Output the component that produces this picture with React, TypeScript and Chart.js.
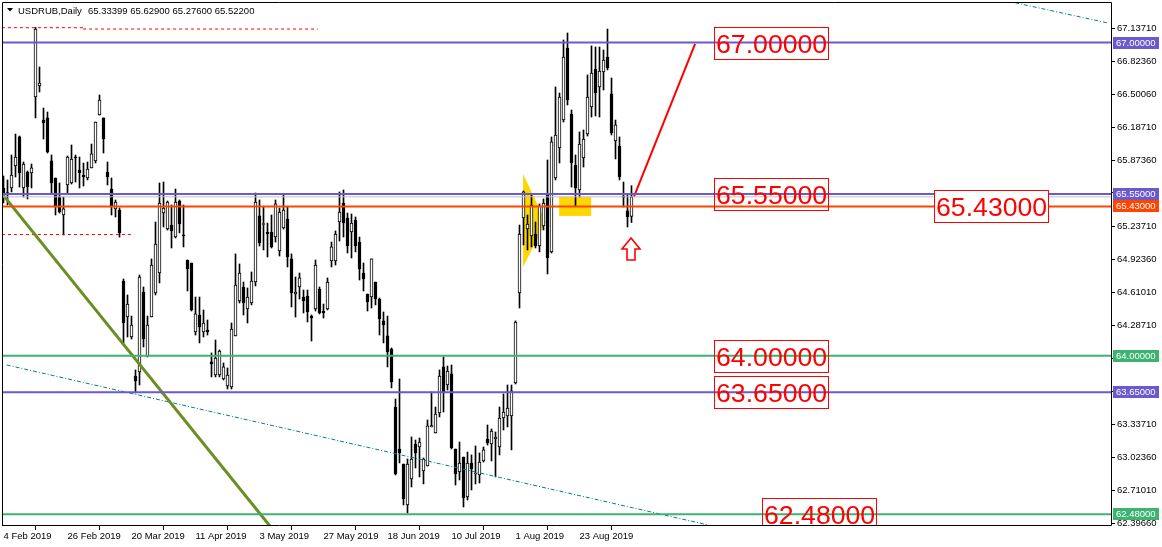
import React, { useEffect, useRef } from "react";
import { Chart, registerables } from "chart.js";

Chart.register(...registerables);

// ---------- data (daily USDRUB candles, bar index 0 = 4 Feb 2019) ----------
const opens = [
  65.607, 65.54, 65.607, 65.818, 66.096, 65.607, 65.76, 65.751, 66.479, 66.584,
  66.258, 66.278, 65.866, 65.703, 65.521, 65.348, 65.636, 65.655, 65.904, 65.779,
  65.731, 65.703, 65.799, 65.866, 66.306, 66.278, 65.76, 65.597, 65.406, 65.396,
  64.716, 64.371, 64.179, 63.805, 63.844, 64.61, 63.997, 64.371, 64.601, 64.792,
  65.367, 65.214, 65.252, 65.137, 65.482, 65.157, 64.917, 64.888, 64.227, 64.39,
  64.227, 64.246, 63.94, 63.815, 63.815, 63.777, 63.71, 63.7, 64.189, 64.524,
  64.658, 64.448, 64.505, 64.706, 65.339, 65.257, 65.185, 65.185, 65.137, 65.003,
  65.224, 65.31, 64.927, 64.591, 64.658, 64.562, 64.572, 64.38, 64.448, 64.639,
  64.424, 64.448, 64.907, 64.907, 65.281, 65.463, 65.319, 65.185, 65.3, 65.089,
  64.792, 64.591, 64.562, 64.706, 64.543, 64.333, 64.189, 64.064, 63.508, 63.106,
  62.962, 62.569, 62.819, 63.154, 63.125, 62.895, 62.943, 63.317, 63.259, 63.451,
  63.892, 63.719, 63.825, 63.106, 62.886, 63.029, 62.646, 62.972, 62.866, 62.857,
  62.991, 63.202, 63.154, 63.202, 63.125, 63.403, 63.422, 63.422, 63.738, 64.601,
  65.319, 65.214, 65.147, 65.166, 65.051, 65.243, 65.54, 64.994, 65.703, 65.99,
  66.258, 66.948, 66.316, 65.827, 65.588, 65.894, 66.124, 66.383, 66.747, 66.575,
  66.718, 66.862, 66.508, 66.057, 66.009, 65.526, 65.387, 65.33399,
];
const highs = [
  65.722, 65.684, 65.923, 66.124, 66.105, 65.856, 65.77, 65.837, 67.145, 66.766,
  66.373, 66.335, 65.923, 65.703, 65.655, 65.521, 65.913, 66.019, 65.923, 65.904,
  65.846, 65.856, 66.028, 66.239, 66.498, 66.278, 65.856, 65.703, 65.492, 65.415,
  64.735, 64.582, 64.38, 63.863, 64.773, 64.658, 64.38, 64.927, 65.281, 65.655,
  65.664, 65.482, 65.444, 65.597, 65.492, 65.444, 64.917, 64.888, 64.562, 64.562,
  64.438, 64.342, 64.026, 64.15, 64.055, 63.93, 63.882, 64.313, 64.975, 64.879,
  64.706, 64.649, 64.802, 65.559, 65.492, 65.425, 65.271, 65.348, 65.492, 65.415,
  65.549, 65.425, 64.975, 64.754, 64.792, 64.629, 64.629, 64.39, 64.917, 64.658,
  64.495, 64.745, 65.089, 65.195, 65.569, 65.588, 65.367, 65.358, 65.329, 65.137,
  64.888, 64.591, 64.927, 64.706, 64.553, 64.419, 64.38, 64.074, 63.585, 63.777,
  62.962, 63.01, 63.221, 63.192, 63.211, 63.02, 63.384, 63.652, 63.508, 63.863,
  63.988, 63.901, 63.911, 63.106, 63.173, 63.029, 63.077, 63.049, 63.135, 63.068,
  63.125, 63.336, 63.298, 63.269, 63.508, 63.633, 63.719, 63.719, 64.333, 65.252,
  65.578, 65.348, 65.549, 65.281, 65.454, 65.502, 65.875, 66.096, 66.575, 66.517,
  67.025, 67.092, 66.354, 65.923, 66.144, 66.163, 66.69, 66.968, 66.958, 66.958,
  66.929, 67.13, 66.661, 66.258, 66.096, 65.664, 65.54, 65.629,
];
const lows = [
  65.463, 65.444, 65.569, 65.712, 65.616, 65.521, 65.502, 65.607, 66.278, 66.527,
  66.076, 65.942, 65.549, 65.348, 65.367, 65.157, 65.559, 65.645, 65.664, 65.607,
  65.626, 65.684, 65.799, 65.846, 66.306, 65.942, 65.636, 65.348, 65.329, 65.137,
  64.122, 64.179, 64.16, 63.643, 63.719, 64.083, 63.988, 64.371, 64.582, 64.697,
  65.233, 65.204, 65.032, 65.128, 65.176, 65.042, 64.62, 64.428, 64.198, 64.122,
  64.179, 64.198, 63.796, 63.796, 63.796, 63.767, 63.681, 63.681, 64.189, 64.505,
  64.39, 64.313, 64.486, 64.668, 65.051, 65.013, 64.946, 65.032, 65.089, 64.955,
  65.214, 64.85, 64.467, 64.371, 64.543, 64.409, 64.323, 64.141, 64.428, 64.4,
  64.361, 64.438, 64.85, 64.869, 65.099, 65.137, 64.984, 64.936, 64.994, 64.725,
  64.62, 64.428, 64.457, 64.486, 64.198, 64.122, 63.892, 63.691, 62.857, 62.972,
  62.569, 62.493, 62.742, 62.924, 62.838, 62.771, 62.943, 63.317, 63.259, 63.413,
  63.46, 63.671, 63.106, 62.761, 62.809, 62.55, 62.617, 62.713, 62.771, 62.78,
  62.981, 63.144, 62.991, 62.838, 63.049, 63.288, 63.317, 63.097, 63.729, 64.457,
  65.061, 65.013, 65.042, 65.032, 64.994, 65.204, 64.783, 64.984, 65.684, 65.846,
  66.239, 66.402, 65.616, 65.434, 65.521, 65.808, 66.105, 66.287, 66.297, 66.287,
  66.546, 66.738, 66.115, 65.885, 65.684, 65.425, 65.233, 65.276,
];
const closes = [
  65.511, 65.564, 65.731, 65.904, 65.751, 65.837, 65.616, 65.799, 67.13, 66.613,
  66.23, 65.952, 65.655, 65.425, 65.377, 65.406, 65.904, 65.885, 65.894, 65.751,
  65.712, 65.789, 65.933, 66.239, 66.45, 66.076, 65.712, 65.434, 65.473, 65.176,
  64.313, 64.495, 64.294, 63.758, 64.754, 64.16, 64.294, 64.869, 65.07, 65.463,
  65.415, 65.473, 65.195, 65.473, 65.262, 65.147, 64.831, 64.438, 64.4, 64.275,
  64.313, 64.227, 63.92, 63.978, 64.045, 63.892, 63.815, 64.256, 64.677, 64.792,
  64.505, 64.562, 64.716, 65.473, 65.08, 65.267, 65.166, 65.042, 65.454, 65.377,
  65.396, 64.946, 64.601, 64.61, 64.745, 64.524, 64.419, 64.361, 64.869, 64.409,
  64.409, 64.706, 65.042, 65.166, 65.377, 65.271, 65.051, 65.271, 65.051, 64.831,
  64.735, 64.515, 64.927, 64.543, 64.352, 64.294, 64.035, 63.748, 62.866, 63.068,
  62.627, 62.962, 63.01, 63.068, 63.173, 63.01, 63.327, 63.331, 63.441, 63.805,
  63.643, 63.853, 63.116, 62.866, 62.972, 62.636, 62.972, 62.914, 62.876, 62.981,
  63.097, 63.164, 63.278, 63.221, 63.403, 63.46, 63.499, 63.662, 64.323, 65.166,
  65.569, 65.262, 65.444, 65.051, 65.434, 65.463, 64.936, 66.048, 66.115, 66.479,
  66.862, 66.45, 65.846, 65.607, 66.028, 66.076, 66.479, 66.709, 66.517, 66.728,
  66.833, 66.757, 66.134, 66.211, 65.712, 65.516, 65.329, 65.522,
];

const xTickIndex = [0, 16, 32, 48, 64, 80, 96, 112, 128, 144];
const xTickLabels = [
  "4 Feb 2019", "26 Feb 2019", "20 Mar 2019", "11 Apr 2019", "3 May 2019",
  "27 May 2019", "18 Jun 2019", "10 Jul 2019", "1 Aug 2019", "23 Aug 2019",
];
const yTicks = [
  67.1371, 66.8236, 66.5006, 66.1871, 65.8736, 65.5601, 65.2371, 64.9236,
  64.6101, 64.2871, 63.9736, 63.6601, 63.3371, 63.0236, 62.7101, 62.3966,
];

// horizontal levels
const levelValues = [67.0, 65.55, 65.43, 64.0, 63.65, 62.48];
const bidValue = 65.522;

// boxed level captions: bar-index position of left edge, price level
const boxLabels = ["67.00000", "65.55000", "64.00000", "63.65000", "62.48000", "65.43000"];
const boxLevels = [67.0, 65.55, 64.0, 63.65, 62.48, 65.43];
const boxXIndex = [177.625, 177.625, 177.625, 177.625, 189.625, 232.625];

// trend lines: [x index, price]
const oliveLineX = [-0.125, 73.5];
const oliveLineY = [65.54, 62.04];
const tealLowX = [0.8, 176.1];
const tealLowY = [63.911, 62.378];
const tealHighX = [252.9, 276.1];
const tealHighY = [67.382, 67.188];
const redLineX = [157.6, 172.9];
const redLineY = [65.521, 66.987];
const dashTop1X = [-0.4, 19.9];
const dashTop1Y = [67.143, 67.143];
const dashTop2X = [19.9, 78.6];
const dashTop2Y = [67.13, 67.13];
const dashLowX = [-0.4, 32.1];
const dashLowY = [65.161, 65.161];

// yellow shapes
const triangleX = [129.9, 135.6, 129.9];
const triangleY = [65.741, 65.281, 64.85];
const rectX = [138.9, 146.9];
const rectY = [65.521, 65.339];

// arrow marker (tip)
const arrowX = 156.875;
const arrowY = 65.128;

const X_MIN = -0.375;
const X_MAX = 276.875;
const Y_MIN = 62.3679;
const Y_MAX = 67.3891;

// ---------- styles ----------
const PURPLE = "#6A5ACD";
const GREEN = "#3CB371";
const ORANGE = "#FF4500";
const levelColors = [PURPLE, PURPLE, ORANGE, GREEN, PURPLE, GREEN];
const FONT = '"Liberation Sans", Arial, sans-serif';

const pts = (xs: number[], ys: number[]) => xs.map((x, i) => ({ x, y: ys[i] }));

const lineDs = (data: any[], color: string, width: number, dash: number[] = [], order = 0) => ({
  type: "line" as const,
  data,
  borderColor: color,
  borderWidth: width,
  borderDash: dash,
  pointRadius: 0,
  fill: false,
  tension: 0,
  order,
});

const overlayPlugin = {
  id: "mt4overlay",
  beforeDatasetsDraw(chart: any) {
    const { ctx, chartArea: a, scales } = chart;
    const xs = scales.x;
    const ys = scales.y;
    ctx.save();
    ctx.beginPath();
    ctx.rect(a.left, a.top, a.right - a.left, a.bottom - a.top);
    ctx.clip();
    ctx.fillStyle = "#FFD700";
    ctx.beginPath();
    triangleX.forEach((x, i) => {
      const px = xs.getPixelForValue(x);
      const py = ys.getPixelForValue(triangleY[i]);
      if (i === 0) ctx.moveTo(px, py);
      else ctx.lineTo(px, py);
    });
    ctx.closePath();
    ctx.fill();
    const rx0 = xs.getPixelForValue(rectX[0]);
    const rx1 = xs.getPixelForValue(rectX[1]);
    const ry0 = ys.getPixelForValue(rectY[0]);
    const ry1 = ys.getPixelForValue(rectY[1]);
    ctx.fillRect(rx0, ry0, rx1 - rx0, ry1 - ry0);
    ctx.restore();
  },
  afterDatasetsDraw(chart: any) {
    const { ctx, chartArea: a, scales } = chart;
    const xs = scales.x;
    const ys = scales.y;
    ctx.save();
    ctx.beginPath();
    ctx.rect(a.left, a.top, a.right - a.left, a.bottom - a.top);
    ctx.clip();
    // boxed captions
    boxLabels.forEach((lab, i) => {
      const x0 = Math.round(xs.getPixelForValue(boxXIndex[i]));
      const yc = ys.getPixelForValue(boxLevels[i]);
      const y0 = Math.round(yc - 16);
      if (lab === "65.43000") {
        ctx.fillStyle = "#FFFFFF";
        ctx.fillRect(x0, y0, 115, 32);
      }
      ctx.strokeStyle = "#FF0000";
      ctx.lineWidth = 1;
      ctx.strokeRect(x0 + 0.5, y0 + 0.5, 114, 32);
      ctx.fillStyle = "#FF0000";
      ctx.font = `26.67px ${FONT}`;
      ctx.textAlign = "left";
      ctx.textBaseline = "alphabetic";
      ctx.fillText(lab, x0 + 2, yc + 10);
    });
    // arrow
    const ax = xs.getPixelForValue(arrowX);
    const ay = ys.getPixelForValue(arrowY);
    const shape = [
      [0, 0], [9, 11], [4, 11], [4, 22], [-4, 22], [-4, 11], [-9, 11],
    ];
    ctx.beginPath();
    shape.forEach(([dx, dy], i) => {
      if (i === 0) ctx.moveTo(ax + dx, ay + dy);
      else ctx.lineTo(ax + dx, ay + dy);
    });
    ctx.closePath();
    ctx.fillStyle = "#FFFFFF";
    ctx.fill();
    ctx.strokeStyle = "#FF0000";
    ctx.lineWidth = 1.6;
    ctx.stroke();
    ctx.restore();
  },
  afterDraw(chart: any) {
    const { ctx, chartArea: a, scales } = chart;
    const ys = scales.y;
    ctx.save();
    // frame
    ctx.strokeStyle = "#000";
    ctx.lineWidth = 1;
    ctx.beginPath();
    ctx.moveTo(a.left + 0.5, a.bottom);
    ctx.lineTo(a.left + 0.5, a.top + 0.5);
    ctx.lineTo(a.right + 0.5, a.top + 0.5);
    ctx.lineTo(a.right + 0.5, a.bottom - 0.5);
    ctx.lineTo(a.left, a.bottom - 0.5);
    ctx.stroke();
    // header
    ctx.fillStyle = "#000";
    ctx.beginPath();
    ctx.moveTo(7, 8);
    ctx.lineTo(13, 8);
    ctx.lineTo(10, 11.5);
    ctx.closePath();
    ctx.fill();
    ctx.font = `9.5px ${FONT}`;
    ctx.textAlign = "left";
    ctx.textBaseline = "alphabetic";
    ctx.fillText("USDRUB,Daily", 18, 14);
    ctx.fillText(
      [opens[opens.length - 1], highs[highs.length - 1], lows[lows.length - 1], closes[closes.length - 1]]
        .map((v) => v.toFixed(5))
        .join(" "),
      88,
      14
    );
    // price badges on the axis
    const badge = (v: number, color: string) => {
      const y = Math.round(ys.getPixelForValue(v));
      ctx.fillStyle = color;
      ctx.fillRect(a.right + 2, y - 6, 46, 12);
      ctx.fillStyle = "#FFFFFF";
      ctx.font = `9.5px ${FONT}`;
      ctx.textBaseline = "middle";
      ctx.fillText(v.toFixed(5), a.right + 5, y + 0.5);
    };
    badge(bidValue, "#000000");
    levelValues.forEach((v, i) => badge(v, levelColors[i]));
    ctx.restore();
  },
};

export default function App() {
  const ref = useRef<HTMLCanvasElement | null>(null);
  useEffect(() => {
    document.body.style.margin = "0";
    document.body.style.background = "#fff";
    const canvas = ref.current;
    if (!canvas) return;

    const idx = opens.map((_, i) => i);
    const wickData = idx.map((i) => ({ x: i, y: [lows[i], highs[i]] }));
    const bodyData = idx.map((i) => ({ x: i, y: [opens[i], closes[i]] }));
    const bodyColors = idx.map((i) => (closes[i] >= opens[i] ? "#FFFFFF" : "#000000"));

    const datasets: any[] = [
      {
        type: "bar",
        data: wickData,
        backgroundColor: "#000000",
        borderWidth: 0,
        barThickness: 1,
        grouped: false,
        order: 3,
      },
      {
        type: "bar",
        data: bodyData,
        backgroundColor: bodyColors,
        borderColor: "#000000",
        borderWidth: 1,
        borderSkipped: false,
        barThickness: 3,
        grouped: false,
        order: 2,
      },
      lineDs(pts([X_MIN, X_MAX], [bidValue, bidValue]), "#C0C0C0", 1),
      ...levelValues.map((v, i) =>
        lineDs(pts([X_MIN, X_MAX], [v, v]), levelColors[i], 2)
      ),
      lineDs(pts(oliveLineX, oliveLineY), "#6B8E23", 3),
      lineDs(pts(tealLowX, tealLowY), "#008080", 1, [4, 2, 1, 2]),
      lineDs(pts(tealHighX, tealHighY), "#008080", 1, [4, 2, 1, 2]),
      lineDs(pts(redLineX, redLineY), "#FF0000", 2),
      lineDs(pts(dashTop1X, dashTop1Y), "#FF0000", 1, [3, 3]),
      lineDs(pts(dashTop2X, dashTop2Y), "#FF0000", 1, [3, 3]),
      lineDs(pts(dashLowX, dashLowY), "#FF0000", 1, [3, 3]),
    ];

    const chart = new Chart(canvas, {
      type: "bar",
      data: { datasets },
      options: {
        responsive: false,
        devicePixelRatio: 1,
        animation: false,
        events: [],
        layout: { padding: { left: 2, top: 2, right: 0, bottom: 0 } },
        plugins: { legend: { display: false }, tooltip: { enabled: false } },
        scales: {
          x: {
            type: "linear",
            min: X_MIN,
            max: X_MAX,
            offset: false,
            afterBuildTicks: (s: any) => {
              s.ticks = xTickIndex.map((v) => ({ value: v }));
            },
            afterFit: (s: any) => {
              s.height = 21;
              s.paddingLeft = 0;
              s.paddingRight = 0;
            },
            ticks: {
              autoSkip: false,
              maxRotation: 0,
              minRotation: 0,
              align: "start",
              padding: 1,
              color: "#000",
              font: { family: FONT, size: 9.5 },
              callback: (v: any) => {
                const k = xTickIndex.indexOf(Number(v));
                return k >= 0 ? xTickLabels[k] : "";
              },
            },
            grid: { drawOnChartArea: false, drawTicks: true, tickLength: 4, color: "#000" },
            border: { display: false },
          },
          y: {
            type: "linear",
            position: "right",
            min: Y_MIN,
            max: Y_MAX,
            afterBuildTicks: (s: any) => {
              s.ticks = yTicks.map((v) => ({ value: v }));
            },
            afterFit: (s: any) => {
              s.width = 51;
              s.paddingTop = 0;
              s.paddingBottom = 0;
            },
            ticks: {
              autoSkip: false,
              padding: 2,
              color: "#000",
              font: { family: FONT, size: 9.5 },
              callback: (v: any) => Number(v).toFixed(5),
            },
            grid: { drawOnChartArea: false, drawTicks: true, tickLength: 4, color: "#000" },
            border: { display: false },
          },
        },
      } as any,
      plugins: [overlayPlugin],
    });
    return () => chart.destroy();
  }, []);

  return (
    <canvas
      ref={ref}
      width={1162}
      height={547}
      style={{ display: "block", width: 1162, height: 547 }}
    />
  );
}
